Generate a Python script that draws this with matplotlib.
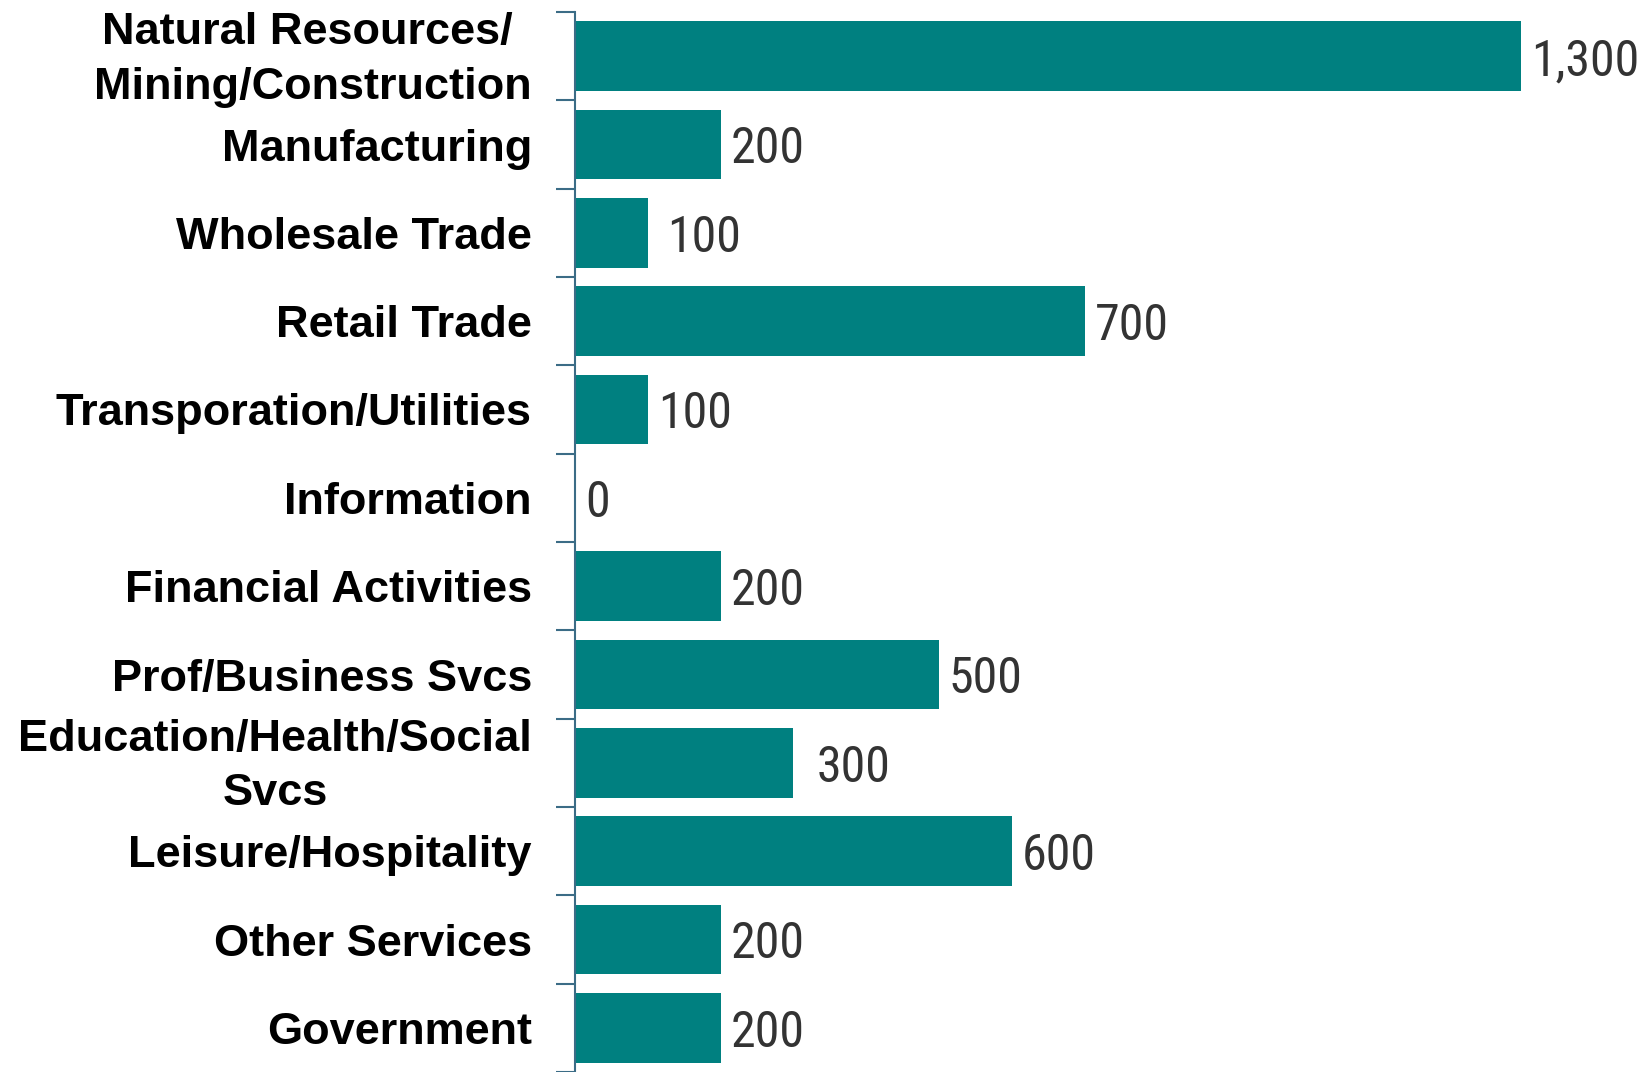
import matplotlib.pyplot as plt
import matplotlib.transforms as mtransforms

# job change by industry
categories = [
    "Natural Resources/ \nMining/Construction",
    "Manufacturing",
    "Wholesale Trade",
    "Retail Trade",
    "Transporation/Utilities",
    "Information",
    "Financial Activities",
    "Prof/Business Svcs",
    "Education/Health/Social\nSvcs",
    "Leisure/Hospitality",
    "Other Services",
    "Government",
]
values = [1300, 200, 100, 700, 100, 0, 200, 500, 300, 600, 200, 200]
value_labels = ["1,300", "200", "100", "700", "100", "0", "200", "500", "300", "600", "200", "200"]
# extra gap (px) before a few labels, as in the original
label_nudge = [0, 0, 9, 0, 0, 0, 0, 0, 13, 0, 0, 0]

bar_color = "#008080"
axis_color = "#3b6c86"

fig = plt.figure(figsize=(16.48, 10.72), dpi=100)
ax = fig.add_axes([575 / 1648, 0.0, 1019 / 1648, 1 - 12 / 1072])

pos = list(range(len(categories)))
ax.barh(pos, values, height=0.79, color=bar_color)

ax.set_ylim(len(categories) - 0.5, -0.5)
ax.set_xlim(0, 1400)

for s in ["top", "right", "bottom"]:
    ax.spines[s].set_visible(False)
ax.spines["left"].set_color(axis_color)
ax.spines["left"].set_linewidth(1.5)
ax.set_xticks([])

ax.set_yticks(pos)
ax.set_yticklabels(categories, fontsize=32.5, fontweight="bold",
                   family=["Liberation Sans", "DejaVu Sans"],
                   multialignment="center", linespacing=1.42)
ax.tick_params(axis="y", which="major", length=0, pad=31)

# two-line labels sit a bit higher in the original
for lab in ax.get_yticklabels():
    if "\n" in lab.get_text():
        lab.set_transform(lab.get_transform() + mtransforms.ScaledTranslation(0, 0.075, fig.dpi_scale_trans))

# small ticks between the categories
ax.set_yticks([p - 0.5 for p in pos] + [len(pos) - 0.5], minor=True)
ax.tick_params(axis="y", which="minor", length=14, width=1.5, color=axis_color, direction="out")

for i, (v, t) in enumerate(zip(values, value_labels)):
    ax.annotate(t, (v, i), xytext=(7.2 + label_nudge[i] * 0.72, -3.5), textcoords="offset points",
                va="center", ha="left", fontsize=36, color="#333333",
                family=["Roboto Condensed", "DejaVu Sans"])

fig.savefig("out.png", dpi=100)
